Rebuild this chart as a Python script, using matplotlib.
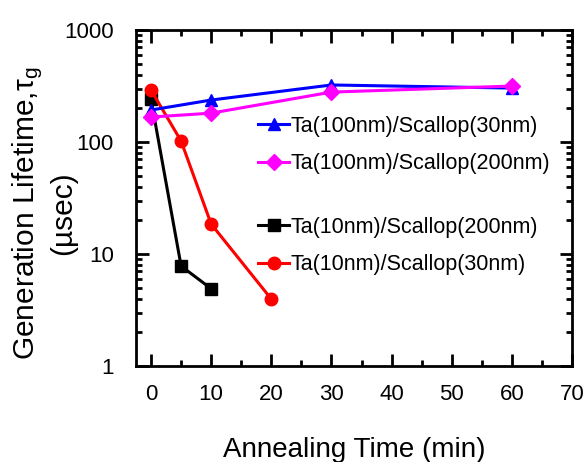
import matplotlib.pyplot as plt
from matplotlib.ticker import MultipleLocator, LogLocator, NullFormatter, FixedLocator, FixedFormatter

plt.rcParams['font.family'] = ['Liberation Sans', 'DejaVu Sans']

# annealing time (min) and generation lifetime (usec)
t_a = [0, 10, 30, 60]
ta100_sc30 = [193, 237, 323, 303]
ta100_sc200 = [167, 181, 279, 316]
t_b = [0, 5, 10]
ta10_sc200 = [240, 7.8, 4.9]
t_c = [0, 5, 10, 20]
ta10_sc30 = [291, 102, 18.5, 3.96]

labels = ['Ta(100nm)/Scallop(30nm)', 'Ta(100nm)/Scallop(200nm)',
          'Ta(10nm)/Scallop(200nm)', 'Ta(10nm)/Scallop(30nm)']
x_ticks = [0, 10, 20, 30, 40, 50, 60, 70]
y_ticks = [1, 10, 100, 1000]

fig = plt.figure(figsize=(5.88, 4.62), dpi=100)
ax = fig.add_axes([136 / 588, 1 - 366 / 462, (572 - 136) / 588, (366 - 30) / 462])

lw = 2.2
ms = 9
h1, = ax.plot(t_a, ta100_sc30, color='#0000ff', marker='^', lw=lw, ms=ms, zorder=3)
h2, = ax.plot(t_a, ta100_sc200, color='#ff00ff', marker='D', lw=lw, ms=ms - 1, zorder=3)
h3, = ax.plot(t_b, ta10_sc200, color='black', marker='s', lw=lw, ms=ms - 1, zorder=2)
h4, = ax.plot(t_c, ta10_sc30, color='#ff0000', marker='o', lw=lw, ms=ms, zorder=2)

ax.set_yscale('log')
ax.set_xlim(-2.5, 70)
ax.set_ylim(1, 1000)
ax.xaxis.set_major_locator(FixedLocator(x_ticks))
ax.xaxis.set_minor_locator(MultipleLocator(5))
ax.yaxis.set_major_locator(FixedLocator(y_ticks))
ax.yaxis.set_major_formatter(FixedFormatter([str(v) for v in y_ticks]))
ax.yaxis.set_minor_locator(LogLocator(base=10, subs=range(2, 10)))
ax.yaxis.set_minor_formatter(NullFormatter())

for s in ax.spines.values():
    s.set_linewidth(2)
ax.tick_params(which='both', direction='in', top=True, right=True, width=2)
ax.tick_params(which='major', length=9, labelsize=16, pad=13)
ax.tick_params(which='minor', length=4)
ax.tick_params(axis='y', which='major', pad=16)

ax.set_xlabel('Annealing Time (min)', fontsize=20, labelpad=23)
fig.text(44 / 588, 1 - 213 / 462, 'Generation Lifetime,$\\mathregular{\\tau_g}$\n(µsec)',
         fontsize=21.5, rotation=90, ha='center', va='center', multialignment='center',
         linespacing=1.2)

# legend split in two groups, as in the original
leg_kw = dict(loc='center left', frameon=False, fontsize=15.5, handlelength=1.45,
              handletextpad=0.05, labelspacing=0.77, borderpad=0)
leg1 = ax.legend([h1, h2], labels[:2], bbox_to_anchor=(0.255, 0.658), **leg_kw)
ax.add_artist(leg1)
ax.legend([h3, h4], labels[2:], bbox_to_anchor=(0.255, 0.357), **leg_kw)

fig.savefig('out.png', dpi=100)
